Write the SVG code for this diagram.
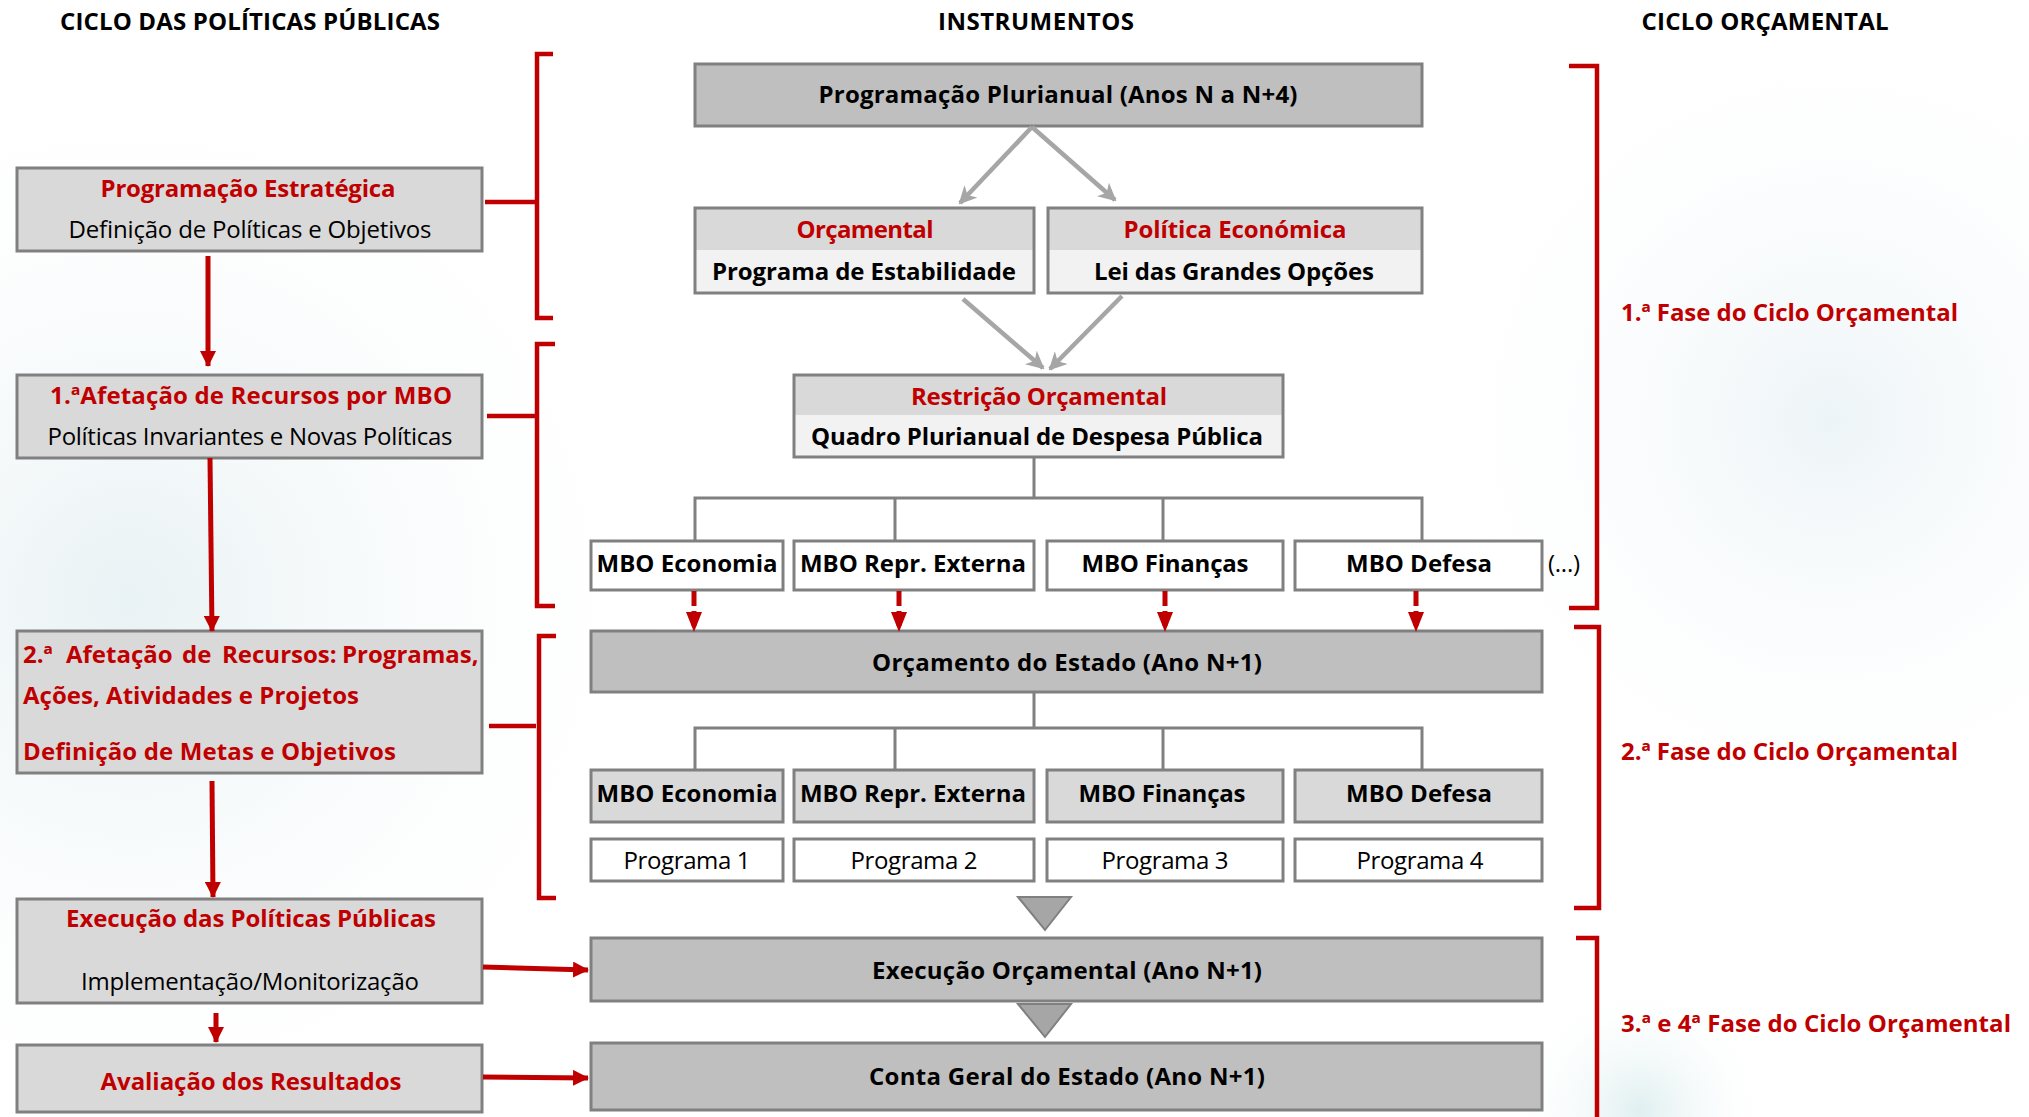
<svg xmlns="http://www.w3.org/2000/svg" width="2029" height="1117" viewBox="0 0 2029 1117">
<defs>
<radialGradient id="bgL" cx="130" cy="600" r="560" gradientUnits="userSpaceOnUse">
<stop offset="0" stop-color="#e6f0f3" stop-opacity="0.9"/>
<stop offset="1" stop-color="#ffffff" stop-opacity="0"/>
</radialGradient>
<radialGradient id="bgR" cx="1830" cy="420" r="420" gradientUnits="userSpaceOnUse">
<stop offset="0" stop-color="#ebf3f6" stop-opacity="0.9"/>
<stop offset="1" stop-color="#ffffff" stop-opacity="0"/>
</radialGradient>
<radialGradient id="bgB" cx="1640" cy="1110" r="130" gradientUnits="userSpaceOnUse">
<stop offset="0" stop-color="#dcedee" stop-opacity="0.9"/>
<stop offset="1" stop-color="#ffffff" stop-opacity="0"/>
</radialGradient>
<marker id="redArrow" markerUnits="userSpaceOnUse" markerWidth="16" markerHeight="16" viewBox="0 0 16 16" refX="15" refY="8" orient="auto">
<path d="M0,0 L16,8 L0,16 Z" fill="#c00000"/>
</marker>
<marker id="redArrowD" markerUnits="userSpaceOnUse" markerWidth="20" markerHeight="16" viewBox="0 0 20 16" refX="19" refY="8" orient="auto">
<path d="M0,0 L20,8 L0,16 Z" fill="#c00000"/>
</marker>
<marker id="grayArrow" markerUnits="userSpaceOnUse" markerWidth="18" markerHeight="18" viewBox="0 0 18 18" refX="16" refY="9" orient="auto">
<path d="M0,0 L18,9 L0,18 L5,9 Z" fill="#a6a6a6"/>
</marker>
<style>
text{font-family:"Open Sans","Noto Sans","DejaVu Sans",sans-serif;}
.hdr{font-size:24px;font-weight:bold;fill:#000;text-anchor:middle;}
.rb{font-size:24px;font-weight:bold;fill:#c00000;}
.bb{font-size:24px;font-weight:bold;fill:#000;}
.nb{font-size:24px;font-weight:normal;fill:#000;}
.c{text-anchor:middle;}
.box{stroke:#808080;stroke-width:3;}
.lt{fill:#d9d9d9;}
.dk{fill:#bfbfbf;}
.wh{fill:#ffffff;}
.pale{fill:#f2f2f2;}
.tree{fill:none;stroke:#808080;stroke-width:3;}
.garr{fill:none;stroke:#a6a6a6;stroke-width:4.5;marker-end:url(#grayArrow);}
.rarr{fill:none;stroke:#c00000;stroke-width:5;marker-end:url(#redArrow);}
.rdash{fill:none;stroke:#c00000;stroke-width:5;stroke-dasharray:15,5;marker-end:url(#redArrowD);}
.brk{fill:none;stroke:#c00000;stroke-width:4.5;}
.tri{fill:#a6a6a6;stroke:#808080;stroke-width:2;}
</style>
</defs>
<rect x="0" y="0" width="2029" height="1117" fill="#ffffff"/>
<rect x="0" y="0" width="2029" height="1117" fill="url(#bgL)"/>
<rect x="0" y="0" width="2029" height="1117" fill="url(#bgR)"/>
<rect x="0" y="0" width="2029" height="1117" fill="url(#bgB)"/>

<g id="headers">
<text class="hdr" x="250" y="30" textLength="380">CICLO DAS POLÍTICAS PÚBLICAS</text>
<text class="hdr" x="1036" y="30" textLength="196">INSTRUMENTOS</text>
<text class="hdr" x="1765" y="30" textLength="247">CICLO ORÇAMENTAL</text>
</g>

<!-- Left column -->
<g id="prog-estrategica">
<rect class="box lt" x="17" y="168" width="465" height="83"/>
<text class="rb c" x="248" y="197" textLength="295">Programação Estratégica</text>
<text class="nb c" x="250" y="238" textLength="363">Definição de Políticas e Objetivos</text>
</g>
<g id="afetacao-1">
<rect class="box lt" x="17" y="375" width="465" height="83"/>
<text class="rb c" x="251" y="404" textLength="402">1.ªAfetação de Recursos por MBO</text>
<text class="nb c" x="250" y="445" textLength="405">Políticas Invariantes e Novas Políticas</text>
</g>
<g id="afetacao-2">
<rect class="box lt" x="17" y="631" width="465" height="142"/>
<text class="rb" y="663"><tspan x="23">2.ª</tspan><tspan x="66">Afetação</tspan><tspan x="182">de</tspan><tspan x="222">Recursos:</tspan><tspan x="342">Programas,</tspan></text>
<text class="rb" x="23" y="704" textLength="336">Ações, Atividades e Projetos</text>
<text class="rb" x="23" y="760" textLength="373">Definição de Metas e Objetivos</text>
</g>
<g id="execucao-pp">
<rect class="box lt" x="17" y="899" width="465" height="104"/>
<text class="rb c" x="251" y="927" textLength="370">Execução das Políticas Públicas</text>
<text class="nb c" x="250" y="990" textLength="338">Implementação/Monitorização</text>
</g>
<g id="avaliacao">
<rect class="box lt" x="17" y="1045" width="465" height="67"/>
<text class="rb c" x="251" y="1090" textLength="301">Avaliação dos Resultados</text>
</g>

<!-- Middle column -->
<g id="prog-plurianual">
<rect class="box dk" x="695" y="64" width="727" height="62"/>
<text class="bb c" x="1058" y="103" textLength="479">Programação Plurianual (Anos N a N+4)</text>
</g>
<g id="orcamental">
<rect class="lt" x="695" y="208" width="339" height="42"/>
<rect class="pale" x="695" y="250" width="339" height="43"/>
<rect class="box" fill="none" x="695" y="208" width="339" height="85"/>
<text class="rb c" x="865" y="238" textLength="137">Orçamental</text>
<text class="bb c" x="864" y="280" textLength="304">Programa de Estabilidade</text>
</g>
<g id="politica-economica">
<rect class="lt" x="1048" y="208" width="374" height="42"/>
<rect class="pale" x="1048" y="250" width="374" height="43"/>
<rect class="box" fill="none" x="1048" y="208" width="374" height="85"/>
<text class="rb c" x="1235" y="238" textLength="223">Política Económica</text>
<text class="bb c" x="1234" y="280" textLength="280">Lei das Grandes Opções</text>
</g>
<g id="restricao">
<rect class="lt" x="794" y="375" width="489" height="40"/>
<rect class="pale" x="794" y="415" width="489" height="42"/>
<rect class="box" fill="none" x="794" y="375" width="489" height="82"/>
<text class="rb c" x="1039" y="405" textLength="256">Restrição Orçamental</text>
<text class="bb c" x="1037" y="445" textLength="452">Quadro Plurianual de Despesa Pública</text>
</g>

<g id="mbo1-economia"><rect class="box wh" x="591" y="541" width="192" height="49"/><text class="bb c" x="687" y="572" textLength="181">MBO Economia</text></g>
<g id="mbo1-repr"><rect class="box wh" x="794" y="541" width="240" height="49"/><text class="bb c" x="913" y="572" textLength="226">MBO Repr. Externa</text></g>
<g id="mbo1-financas"><rect class="box wh" x="1047" y="541" width="236" height="49"/><text class="bb c" x="1165" y="572" textLength="167">MBO Finanças</text></g>
<g id="mbo1-defesa"><rect class="box wh" x="1295" y="541" width="247" height="49"/><text class="bb c" x="1419" y="572" textLength="146">MBO Defesa</text></g>
<g id="etc"><text class="nb" x="1548" y="572" textLength="32">(...)</text></g>

<g id="orcamento-estado">
<rect class="box dk" x="591" y="631" width="951" height="61"/>
<text class="bb c" x="1067" y="671" textLength="390">Orçamento do Estado (Ano N+1)</text>
</g>

<g id="mbo2-economia"><rect class="box lt" x="591" y="770" width="192" height="52"/><text class="bb c" x="687" y="802" textLength="181">MBO Economia</text></g>
<g id="mbo2-repr"><rect class="box lt" x="794" y="770" width="240" height="52"/><text class="bb c" x="913" y="802" textLength="226">MBO Repr. Externa</text></g>
<g id="mbo2-financas"><rect class="box lt" x="1047" y="770" width="236" height="52"/><text class="bb c" x="1162" y="802" textLength="167">MBO Finanças</text></g>
<g id="mbo2-defesa"><rect class="box lt" x="1295" y="770" width="247" height="52"/><text class="bb c" x="1419" y="802" textLength="146">MBO Defesa</text></g>

<g id="programa-1"><rect class="box wh" x="591" y="839" width="192" height="42"/><text class="nb c" x="687" y="869" textLength="127">Programa 1</text></g>
<g id="programa-2"><rect class="box wh" x="794" y="839" width="240" height="42"/><text class="nb c" x="914" y="869" textLength="127">Programa 2</text></g>
<g id="programa-3"><rect class="box wh" x="1047" y="839" width="236" height="42"/><text class="nb c" x="1165" y="869" textLength="127">Programa 3</text></g>
<g id="programa-4"><rect class="box wh" x="1295" y="839" width="247" height="42"/><text class="nb c" x="1420" y="869" textLength="127">Programa 4</text></g>

<g id="execucao-orcamental">
<rect class="box dk" x="591" y="938" width="951" height="63"/>
<text class="bb c" x="1067" y="979" textLength="390">Execução Orçamental (Ano N+1)</text>
</g>
<g id="conta-geral">
<rect class="box dk" x="591" y="1043" width="951" height="67"/>
<text class="bb c" x="1067" y="1085" textLength="396">Conta Geral do Estado (Ano N+1)</text>
</g>

<!-- Right column labels -->
<g id="fase-1"><text class="rb" x="1621" y="321" textLength="337">1.ª Fase do Ciclo Orçamental</text></g>
<g id="fase-2"><text class="rb" x="1621" y="760" textLength="337">2.ª Fase do Ciclo Orçamental</text></g>
<g id="fase-34"><text class="rb" x="1621" y="1032" textLength="390">3.ª e 4ª Fase do Ciclo Orçamental</text></g>

<g id="connectors">
<!-- left red arrows -->
<path class="rarr" d="M208,256 L208,366"/>
<path class="rarr" d="M210,458 L212,631"/>
<path class="rarr" d="M212,781 L213,897"/>
<path class="rarr" d="M216,1013 L216,1042"/>
<path class="rarr" d="M483,967 L588,970"/>
<path class="rarr" d="M483,1077 L588,1078"/>
<!-- left brackets -->
<path class="brk" d="M485,202 L536,202"/>
<path class="brk" d="M553,54 L537,54 L537,318 L553,318"/>
<path class="brk" d="M487,416 L535,416"/>
<path class="brk" d="M555,344 L537,344 L537,606 L555,606"/>
<path class="brk" d="M489,726 L536,726"/>
<path class="brk" d="M556,636 L539,636 L539,898 L556,898"/>
<!-- right brackets -->
<path class="brk" d="M1569,66 L1597,66 L1597,608 L1569,608"/>
<path class="brk" d="M1574,627 L1599,627 L1599,908 L1574,908"/>
<path class="brk" d="M1576,938 L1597,938 L1597,1117"/>
<!-- gray arrows -->
<path class="garr" d="M1032,127 L960,203"/>
<path class="garr" d="M1032,127 L1115,200"/>
<path class="garr" d="M963,299 L1043,368"/>
<path class="garr" d="M1122,296 L1050,369"/>
<!-- tree 1 -->
<path class="tree" d="M1034,457 L1034,498 M695,541 L695,498 L1422,498 L1422,541 M895,498 L895,541 M1163,498 L1163,541"/>
<!-- dashed red arrows -->
<path class="rdash" d="M694,591 L694,631"/>
<path class="rdash" d="M899,591 L899,631"/>
<path class="rdash" d="M1165,591 L1165,631"/>
<path class="rdash" d="M1416,591 L1416,631"/>
<!-- tree 2 -->
<path class="tree" d="M1034,692 L1034,728 M695,770 L695,728 L1422,728 L1422,770 M895,728 L895,770 M1163,728 L1163,770"/>
<!-- triangles -->
<path class="tri" d="M1018,897 L1071,897 L1045,930 Z"/>
<path class="tri" d="M1018,1004 L1071,1004 L1045,1037 Z"/>
</g>
</svg>
